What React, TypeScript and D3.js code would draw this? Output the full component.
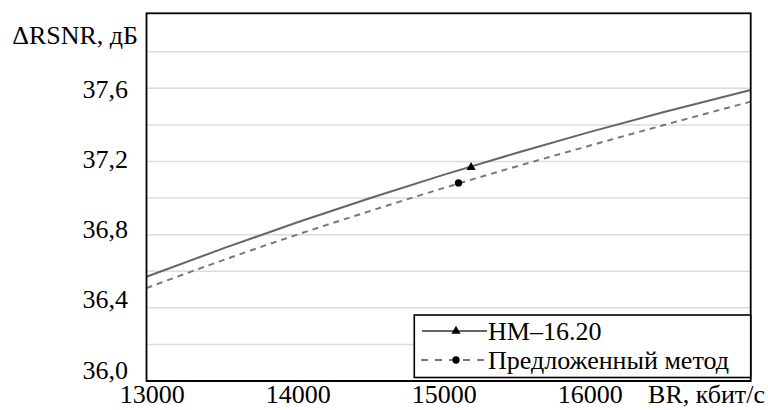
import React from "react";
import * as d3 from "d3";

const brValues = [12960, 13500, 14000, 14500, 15000, 15500, 16000, 16500, 17100];
const hmValues = [36.57, 36.729, 36.869, 37.002, 37.128, 37.248, 37.362, 37.469, 37.591];
const proposedValues = [36.508, 36.665, 36.802, 36.931, 37.056, 37.174, 37.287, 37.398, 37.527];
const hmMarker = { br: 15184, v: 37.168 };
const proposedMarker = { br: 15098, v: 37.083 };
const xTicks = [13000, 14000, 15000, 16000];
const yTicks = [36.0, 36.4, 36.8, 37.2, 37.6];
const yGrid = [36.2, 36.4, 36.6, 36.8, 37.0, 37.2, 37.4, 37.6, 37.8];
const legendLabels = ["HM–16.20", "Предложенный метод"];
const yTitle = "ΔRSNR, дБ";
const xTitle = "BR, кбит/с";

const W = 768;
const H = 410;
const L = 146.5, R = 750.7, T = 13.3, B = 381;
const FONT = "'Liberation Serif'";
const FS = 26;
const ts: React.CSSProperties = { fontFamily: FONT, fontSize: FS };

export default function App() {
  const x = d3.scaleLinear().domain([12960, 17100]).range([L, R]);
  const y = d3.scaleLinear().domain([36, 38.01]).range([B, T]);
  const yLab = d3.scaleLinear().domain([36, 37.6]).range([370, 89]);
  const line = d3
    .line<number>()
    .x((_, i) => x(brValues[i]))
    .y((d) => y(d))
    .curve(d3.curveMonotoneX);

  const tri = d3.symbol().type(d3.symbolTriangle).size(36)();
  const circ = d3.symbol().type(d3.symbolCircle).size(42)();

  const legX0 = 414.3, legY0 = 315, legX1 = R, legY1 = 377.5;
  const row1 = 331, row2 = 360;
  const xLabY = 403;

  return (
    <svg width={W} height={H} style={{ position: "absolute", left: 0, top: 0 }}>
      <rect x={0} y={0} width={W} height={H} fill="#fff" />
      {yGrid.map((g) => (
        <line key={g} x1={L} x2={R} y1={y(g)} y2={y(g)} stroke="#dcdcdc" strokeWidth={1.5} />
      ))}
      <path d={line(hmValues) || ""} fill="none" stroke="#666" strokeWidth={2} />
      <path d={line(proposedValues) || ""} fill="none" stroke="#777" strokeWidth={2} strokeDasharray="6,5" />
      <path d={tri || ""} transform={`translate(${x(hmMarker.br)},${y(hmMarker.v)})`} fill="#000" />
      <path d={circ || ""} transform={`translate(${x(proposedMarker.br)},${y(proposedMarker.v)})`} fill="#000" />
      <rect x={L} y={T} width={R - L} height={B - T} fill="none" stroke="#000" strokeWidth={1.8} />
      <line x1={L} x2={R} y1={B} y2={B} stroke="#000" strokeWidth={2.2} />
      {yTicks.map((t) => (
        <text key={t} x={128} y={yLab(t)} textAnchor="end" dominantBaseline="central" style={ts} fill="#000">
          {t.toFixed(1).replace(".", ",")}
        </text>
      ))}
      <text x={138} y={35} textAnchor="end" dominantBaseline="central" style={ts} fill="#000">{yTitle}</text>
      {xTicks.map((t) => (
        <text key={t} x={x(t)} y={xLabY} textAnchor="middle" style={ts} fill="#000">{t}</text>
      ))}
      <text x={765} y={xLabY} textAnchor="end" style={ts} fill="#000">{xTitle}</text>
      <rect x={legX0} y={legY0} width={legX1 - legX0} height={legY1 - legY0} fill="#fff" stroke="#000" strokeWidth={1.6} />
      <line x1={422} x2={487} y1={row1} y2={row1} stroke="#666" strokeWidth={2} />
      <path d={tri || ""} transform={`translate(456,${row1})`} fill="#000" />
      <text x={488} y={row1} dominantBaseline="central" style={ts} fill="#000">{legendLabels[0]}</text>
      <line x1={421} x2={488} y1={row2} y2={row2} stroke="#777" strokeWidth={2} strokeDasharray="7,7" />
      <path d={circ || ""} transform={`translate(456,${row2})`} fill="#000" />
      <text x={488} y={row2} dominantBaseline="central" style={ts} fill="#000">{legendLabels[1]}</text>
    </svg>
  );
}
